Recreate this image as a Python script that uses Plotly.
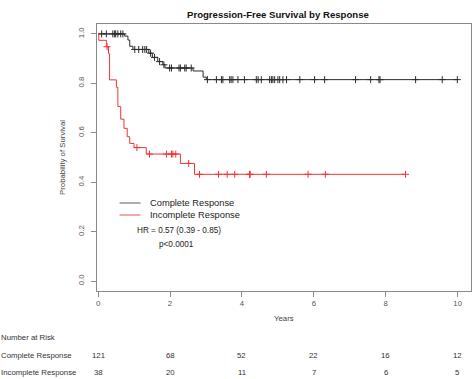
import numpy as np
import plotly.graph_objects as go

# ---- data ----
cr_times = [0, 0.74, 0.83, 0.88, 0.97, 1.41, 1.51, 1.66, 1.80, 1.86, 2.64, 2.92, 3.01]
cr_surv = [1.0, 0.991, 0.975, 0.950, 0.937, 0.922, 0.905, 0.888, 0.875, 0.862, 0.850, 0.825, 0.815]
cr_end = 9.99
cr_censor = [0.10, 0.23, 0.41, 0.46, 0.49, 0.55, 0.63, 0.69,
             1.02, 1.13, 1.24, 1.30, 1.35, 1.46, 1.57, 1.71, 1.83,
             1.99, 2.04, 2.25, 2.29, 2.41, 2.45, 2.59,
             3.04, 3.29, 3.43, 3.47, 3.66, 3.70, 3.75, 3.89, 4.07, 4.40, 4.45, 4.54,
             4.77, 4.82, 4.86, 4.91, 5.00, 5.05, 5.14, 5.24, 5.61, 6.02, 6.30,
             7.16, 7.58, 7.81, 7.84, 8.83, 9.57, 9.99]

ir_times = [0, 0.02, 0.23, 0.29, 0.32, 0.51, 0.55, 0.63, 0.72, 0.81, 0.88, 1.00, 1.34, 2.29, 2.68]
ir_surv = [1.0, 0.974, 0.948, 0.920, 0.814, 0.784, 0.706, 0.655, 0.618, 0.584, 0.557, 0.540, 0.514, 0.476, 0.432]
ir_end = 8.55
ir_censor = [0.25, 1.08, 1.43, 1.90, 2.04, 2.08, 2.16, 2.52,
             2.82, 3.35, 3.59, 3.80, 4.21, 4.23, 4.68, 5.84, 6.32, 8.55]

risk_years = [0, 2, 4, 6, 8, 10]
risk_cr = [121, 68, 52, 22, 16, 12]
risk_ir = [38, 20, 11, 7, 6, 5]

group_names = ["Complete Response", "Incomplete Response"]
x_ticks = [0, 2, 4, 6, 8, 10]
y_ticks = [0.0, 0.2, 0.4, 0.6, 0.8, 1.0]

BLACK = "#2b2b2b"
RED = "#f03434"
FONT = "Liberation Sans, Arial, sans-serif"
GRAY = "#8a8a8a"


def step_at(times, surv, t):
    idx = np.searchsorted(np.array(times), np.array(t), side="right") - 1
    return list(np.array(surv)[idx])


fig = go.Figure()
for times, surv, end, cens, col in [
    (cr_times, cr_surv, cr_end, cr_censor, BLACK),
    (ir_times, ir_surv, ir_end, ir_censor, RED),
]:
    fig.add_trace(go.Scatter(
        x=list(times) + [end], y=list(surv) + [surv[-1]],
        mode="lines", line=dict(color=col, width=1, shape="hv"),
        showlegend=False, hoverinfo="skip"))
    fig.add_trace(go.Scatter(
        x=cens, y=step_at(times, surv, cens), mode="markers",
        marker=dict(symbol="cross-thin", size=5, line=dict(color=col, width=1)),
        showlegend=False, hoverinfo="skip"))

annotations = []
# legend
for i, (name, col) in enumerate(zip(group_names, [BLACK, RED])):
    ypx = 203 + i * 12
    fig.add_shape(type="line", xref="paper", yref="paper",
                  x0=(120 - 97.5) / 373.5, x1=(141 - 97.5) / 373.5,
                  y0=(291 - ypx) / 267, y1=(291 - ypx) / 267,
                  line=dict(color="#777777" if i == 0 else "#f07070", width=1.2))
    annotations.append(dict(text=name, xref="paper", yref="paper",
                            x=(148 - 97.5) / 373.5, y=(291 - ypx) / 267,
                            xanchor="left", yanchor="middle", showarrow=False,
                            font=dict(size=9.3, color="#222", family=FONT)))
annotations.append(dict(text="HR = 0.57 (0.39 - 0.85)", xref="paper", yref="paper",
                        x=(135 - 97.5) / 373.5, y=(291 - 230) / 267,
                        xanchor="left", yanchor="middle", showarrow=False,
                        font=dict(size=8.2, color="#222", family=FONT)))
annotations.append(dict(text="p<0.0001", xref="paper", yref="paper",
                        x=(157 - 97.5) / 373.5, y=(291 - 244) / 267,
                        xanchor="left", yanchor="middle", showarrow=False,
                        font=dict(size=8.2, color="#222", family=FONT)))
# risk table
annotations.append(dict(text="Number at Risk", xref="paper", yref="paper",
                        x=(0 - 97.5) / 373.5, y=(291 - 337) / 267,
                        xanchor="left", yanchor="middle", showarrow=False,
                        font=dict(size=7.8, color="#333", family=FONT)))
for j, (name, vals) in enumerate(zip(group_names, [risk_cr, risk_ir])):
    ypx = 355 + j * 18
    annotations.append(dict(text=name, xref="paper", yref="paper",
                            x=(0 - 97.5) / 373.5, y=(291 - ypx) / 267,
                            xanchor="left", yanchor="middle", showarrow=False,
                            font=dict(size=7.8, color="#333", family=FONT)))
    for yr, v in zip(risk_years, vals):
        annotations.append(dict(text=str(v), xref="x", yref="paper",
                                x=yr, y=(291 - ypx) / 267,
                                xanchor="center", yanchor="middle", showarrow=False,
                                font=dict(size=7.8, color="#333", family=FONT)))
annotations.append(dict(text="Years", xref="paper", yref="paper",
                        x=0.5, y=(291 - 318) / 267, xanchor="center", yanchor="middle",
                        showarrow=False, font=dict(size=7.8, color="#444", family=FONT)))
annotations.append(dict(text="<b>Progression-Free Survival by Response</b>",
                        xref="paper", yref="paper", x=0.5 - 6 / 373.5, y=(291 - 15) / 267,
                        xanchor="center", yanchor="middle", showarrow=False,
                        font=dict(size=9.6, color="#111", family=FONT)))
annotations.append(dict(text="Probability of Survival", xref="paper", yref="paper",
                        x=(63 - 97.5) / 373.5, y=0.5, xanchor="center", yanchor="middle",
                        textangle=-90, showarrow=False,
                        font=dict(size=7.8, color="#444", family=FONT)))

fig.update_layout(
    width=472, height=379,
    margin=dict(l=97, r=1, t=24, b=88),
    paper_bgcolor="white", plot_bgcolor="white",
    font=dict(family=FONT, size=7.8, color="#444"),
    annotations=annotations,
    xaxis=dict(range=[-0.03, 10.37], tickvals=x_ticks, ticktext=[str(v) for v in x_ticks],
               showgrid=False, zeroline=False, showline=True, mirror=True,
               linecolor=GRAY, linewidth=1, ticks="outside", ticklen=5, tickcolor=GRAY,
               tickfont=dict(size=7.8, color="#555")),
    yaxis=dict(range=[-0.04, 1.04], tickvals=y_ticks, ticktext=[f"{v:.1f}" for v in y_ticks],
               tickangle=-90, showgrid=False, zeroline=False, showline=True, mirror=True,
               linecolor=GRAY, linewidth=1, ticks="outside", ticklen=5, tickcolor=GRAY,
               tickfont=dict(size=7.8, color="#555"), ticklabelstandoff=4),
)

fig.write_html("out.html", config={"displayModeBar": False},
               post_script="document.body.style.margin='0';document.body.style.overflow='hidden';")
